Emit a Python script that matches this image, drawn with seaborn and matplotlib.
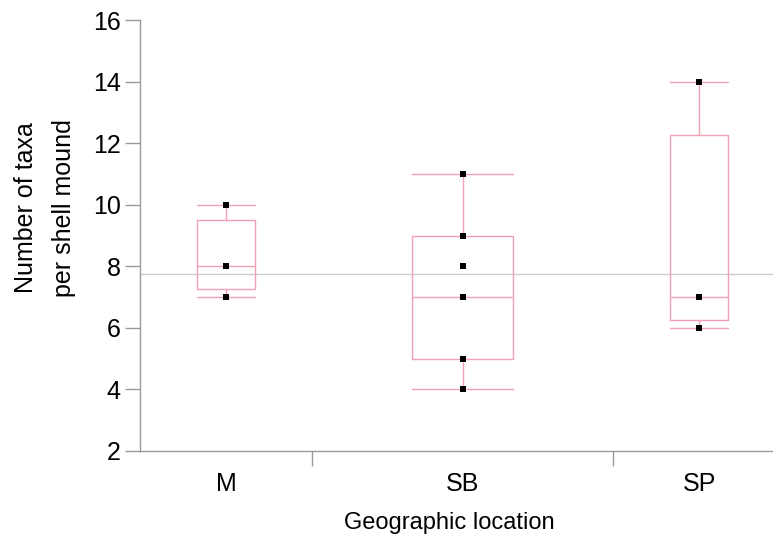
import numpy as np
import pandas as pd
import matplotlib
matplotlib.use("Agg")
import matplotlib.pyplot as plt
import seaborn as sns

# taxa counts per shell mound, by geographic location
locations = ["M", "SB", "SP"]
taxa_m = [7, 8, 8, 10]
taxa_sb = [4, 5, 7, 7, 8, 9, 11]
taxa_sp = [6, 7, 7, 14]
overall_mean = 7.76  # grey reference line
y_ticks = [2, 4, 6, 8, 10, 12, 14, 16]

pink = "#f4a0b4"
grey = "#9a9a9a"

groups = [taxa_m, taxa_sb, taxa_sp]
counts = np.array([len(g) for g in groups])
# category widths proportional to sample size
edges = np.concatenate([[0], np.cumsum(counts)])
centers = (edges[:-1] + edges[1:]) / 2

df = pd.DataFrame({
    "location": np.repeat(locations, counts),
    "taxa": np.concatenate(groups),
})
df["pos"] = df["location"].map(dict(zip(locations, centers)))

sns.set_style("ticks")
plt.rcParams["font.family"] = ["Liberation Sans", "DejaVu Sans"]
plt.rcParams["text.color"] = "black"
plt.rcParams["axes.labelcolor"] = "black"
plt.rcParams["xtick.labelcolor"] = "black"
plt.rcParams["ytick.labelcolor"] = "black"

fig = plt.figure(figsize=(7.73, 5.38), dpi=100)
ax = fig.add_axes([140 / 773, 87 / 538, 645 / 773, 431 / 538])

# quartiles the p(n+1) way
stats = []
for g in groups:
    g = np.asarray(g, float)
    q1, med, q3 = np.percentile(g, [25, 50, 75], method="weibull")
    stats.append(dict(med=med, q1=q1, q3=q3, whislo=g.min(), whishi=g.max(), fliers=[]))

line = dict(color=pink, linewidth=1)
box_w = counts * 0.335
ax.bxp(stats, positions=centers, widths=box_w, capwidths=box_w, showfliers=False,
       boxprops=line, whiskerprops=line, capprops=line, medianprops=line)

ax.axhline(overall_mean, color="#cccccc", linewidth=1, zorder=0)

sns.scatterplot(data=df, x="pos", y="taxa", marker="s", color="black", s=20,
                linewidth=0, ax=ax, zorder=3)

ax.set_xlim(edges[0], edges[-1])
ax.set_ylim(2, 16)
ax.set_yticks(y_ticks)
ax.set_xticks(edges[1:-1])
ax.set_xticklabels([])
ax.set_xticks(centers, minor=True)
ax.set_xticklabels(locations, minor=True)

for side in ["top", "right"]:
    ax.spines[side].set_visible(False)
for side in ["left", "bottom"]:
    ax.spines[side].set_color(grey)
    ax.spines[side].set_linewidth(1)

ax.tick_params(axis="y", which="major", length=11, width=1, color=grey, labelsize=18, pad=3)
ax.tick_params(axis="x", which="major", length=10.5, width=1, color=grey)
ax.tick_params(axis="x", which="minor", length=0, labelsize=18, pad=15)

ax.set_xlabel("Geographic location", fontsize=17)
ax.xaxis.set_label_coords((449 - 140) / 645, (451 - 523) / 431)
ax.xaxis.label.set_va("center")
ax.set_ylabel("Number of taxa\nper shell mound", fontsize=18, linespacing=1.75)
ax.yaxis.set_label_coords((45 - 140) / 645, (451 - 208) / 431)
ax.yaxis.label.set_va("center")

fig.savefig("out.png", dpi=100)
